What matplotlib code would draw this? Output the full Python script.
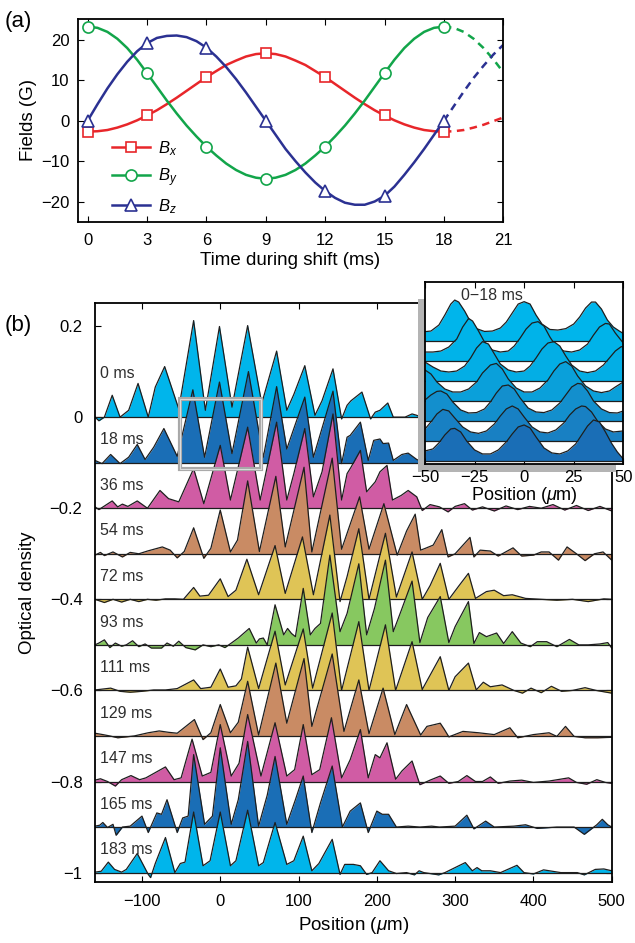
import numpy as np
import matplotlib
matplotlib.use('Agg')
import matplotlib.pyplot as plt
from matplotlib.patches import Rectangle

plt.rcParams['font.family'] = ['Liberation Sans', 'DejaVu Sans']
plt.rcParams['mathtext.fontset'] = 'custom'
plt.rcParams['mathtext.rm'] = 'Liberation Sans'
plt.rcParams['mathtext.it'] = 'Liberation Sans:italic'

# ---- panel (a): fields during the shift, read every 0.5 ms ----
t_ms = [0, 0.5, 1, 1.5, 2, 2.5, 3, 3.5, 4, 4.5, 5, 5.5, 6, 6.5, 7, 7.5, 8, 8.5, 9, 9.5, 10, 10.5, 11, 11.5, 12,
        12.5, 13, 13.5, 14, 14.5, 15, 15.5, 16, 16.5, 17, 17.5, 18, 18.5, 19, 19.5, 20, 20.5, 21]
bx = [-2.7, -2.6, -2.3, -1.7, -0.9, 0.1, 1.3, 2.6, 4.1, 5.7, 7.4, 9.1, 10.8, 12.3, 13.8, 14.9, 15.9, 16.5, 16.7,
      16.5, 15.9, 14.9, 13.8, 12.3, 10.8, 9.1, 7.4, 5.7, 4.1, 2.6, 1.3, 0.1, -0.9, -1.7, -2.3, -2.6, -2.7,
      -2.6, -2.3, -1.7, -1.0, -0.1, 0.8]
by = [23.3, 23.0, 22.0, 20.3, 18.0, 15.1, 11.8, 8.4, 5.0, 1.8, -1.2, -3.9, -6.4, -8.6, -10.6, -12.2, -13.4, -14.1,
      -14.4, -14.1, -13.4, -12.2, -10.6, -8.6, -6.4, -3.9, -1.2, 1.8, 5.0, 8.4, 11.8, 15.1, 18.0, 20.3, 22.0, 23.0,
      23.3, 23.0, 22.0, 20.3, 18.0, 15.2, 12.0]
bz = [0.0, 4.1, 8.0, 11.5, 14.6, 17.2, 19.2, 20.5, 21.0, 21.1, 20.7, 19.7, 18.1, 15.9, 13.3, 10.3, 7.0, 3.5, 0.0,
      -3.5, -7.0, -10.0, -12.8, -15.3, -17.4, -19.1, -20.3, -20.8, -20.8, -20.0, -18.6, -16.3, -13.4, -10.3, -7.0,
      -3.5, 0.0, 3.6, 7.2, 10.6, 13.6, 16.4, 18.8]

# ---- panel (b): optical density traces (position in um, OD above each baseline) ----
labels = ['0 ms', '18 ms', '36 ms', '54 ms', '72 ms', '93 ms', '111 ms', '129 ms', '147 ms', '165 ms', '183 ms']

x0 = [-160, -155, -148, -138, -128, -117, -105, -92, -83, -71, -53, -34, -19, -1, 15, 35, 53, 72, 85, 94, 108, 121,
      130, 144, 155, 162, 167, 181, 192, 198, 204, 214, 221, 236, 245, 251, 262, 275, 290, 305, 325, 345, 370, 395,
      420, 445, 470, 500]
y0 = [0.0, -0.008, 0.0, 0.048, 0.0, 0.015, 0.074, 0.0, 0.066, 0.111, 0.018, 0.212, 0.015, 0.199, 0.022, 0.201, 0.03,
      0.145, 0.015, 0.05, 0.113, 0.004, 0.036, 0.106, -0.004, 0.026, 0.036, 0.055, -0.004, 0.011, 0.015, 0.031, 0.0,
      0.0, 0.007, 0.004, -0.004, 0.006, -0.003, 0.005, -0.004, 0.006, -0.003, 0.005, -0.004, 0.004, -0.003, 0.002]

x18 = [-160, -151, -140, -128, -117, -106, -96, -85, -72, -55, -35, -20, -1, 15, 36, 55, 72, 85, 94, 108, 119, 128,
       144, 155, 162, 166, 179, 189, 196, 204, 208, 215, 221, 232, 240, 251, 265, 280, 300, 320, 345, 370, 400, 430,
       460, 500]
y18 = [0.005, -0.002, 0.018, -0.002, 0.012, 0.04, 0.007, 0.034, 0.075, 0.014, 0.16, 0.012, 0.177, 0.02, 0.2, 0.012,
       0.167, 0.03, 0.075, 0.144, 0.012, 0.064, 0.157, -0.002, 0.056, 0.06, 0.089, 0.005, 0.049, 0.052, 0.042, 0.043,
       0.005, 0.018, 0.021, 0.007, -0.004, 0.006, -0.003, 0.005, -0.004, 0.004, -0.003, 0.004, -0.002, 0.0]

x36 = [-160, -155, -138, -131, -125, -118, -106, -93, -77, -66, -53, -34, -21, 0, 13, 35, 51, 72, 85, 94, 108, 119,
       130, 144, 155, 162, 167, 179, 187, 198, 204, 213, 220, 231, 240, 251, 258, 268, 280, 291, 300, 312, 322, 335,
       350, 365, 380, 395, 410, 425, 440, 455, 470, 485, 500]
y36 = [0.003, -0.003, 0.016, 0.003, 0.009, 0.004, 0.016, 0.0, 0.039, 0.021, 0.014, 0.087, 0.01, 0.138, 0.018, 0.178,
       0.018, 0.189, 0.018, 0.076, 0.175, 0.025, 0.08, 0.207, 0.018, 0.076, 0.09, 0.127, 0.036, 0.058, 0.08, 0.094,
       0.018, 0.028, 0.039, 0.025, -0.005, 0.008, 0.003, -0.008, 0.004, 0.01, -0.004, 0.003, -0.006, 0.005, -0.003,
       0.004, 0.0, 0.008, -0.004, 0.006, -0.005, 0.004, -0.006]

x54 = [-160, -153, -148, -137, -125, -115, -104, -93, -74, -64, -55, -46, -34, -21, -12, 0, 13, 22, 35, 50, 71, 83,
       107, 117, 143, 155, 178, 190, 209, 226, 238, 249, 256, 262, 272, 283, 291, 300, 319, 324, 332, 345, 355, 374,
       385, 400, 410, 420, 432, 443, 455, 466, 478, 489, 500]
y54 = [-0.003, 0.003, -0.004, 0.004, -0.007, 0.003, 0.0, 0.006, 0.015, 0.008, -0.009, 0.005, 0.057, -0.01, 0.012,
       0.096, 0.004, 0.03, 0.16, 0.005, 0.17, 0.015, 0.19, 0.004, 0.21, 0.01, 0.125, 0.01, 0.11, -0.003, 0.05, 0.087,
       0.008, 0.012, 0.019, 0.053, -0.007, 0.0, 0.036, -0.007, 0.008, 0.006, -0.005, 0.013, -0.005, -0.003, 0.004,
       0.004, -0.014, 0.015, 0.0, -0.015, 0.0, 0.004, -0.014]

x72 = [-160, -148, -137, -126, -115, -104, -93, -82, -70, -58, -47, -34, -26, -15, 0, 10, 20, 34, 49, 70, 83, 105,
       119, 140, 153, 162, 177, 190, 211, 225, 245, 258, 268, 281, 292, 305, 317, 326, 340, 350, 362, 373, 390, 410,
       430, 450, 470, 490, 500]
y72 = [0.0, -0.007, 0.0, -0.006, 0.0, -0.005, 0.0, -0.002, 0.001, 0.001, 0.0, 0.026, 0.007, 0.009, 0.045, 0.006,
       0.02, 0.088, 0.01, 0.118, 0.013, 0.137, 0.01, 0.185, -0.005, 0.05, 0.155, 0.0, 0.145, 0.005, 0.104, 0.0, 0.03,
       0.079, 0.0, 0.03, 0.057, 0.002, 0.017, 0.02, 0.008, 0.01, 0.002, 0.0, -0.002, 0.0, -0.005, 0.001, 0.0]

x93 = [-160, -155, -148, -141, -134, -126, -120, -112, -104, -96, -88, -75, -68, -60, -53, -44, -32, -22, -12, -2, 6,
       15, 23, 37, 46, 50, 55, 60, 70, 81, 86, 91, 96, 106, 115, 121, 128, 140, 153, 162, 177, 187, 197, 211, 221,
       230, 245, 255, 265, 281, 292, 300, 317, 324, 331, 340, 353, 362, 373, 384, 396, 405, 417, 430, 446, 458, 470,
       485, 495, 500]
y93 = [0.0, 0.004, 0.011, -0.006, 0.004, -0.003, 0.0, 0.009, -0.004, 0.002, -0.007, -0.007, 0.004, -0.003, 0.008,
       -0.006, -0.011, 0.0, -0.004, 0.0, -0.006, 0.005, 0.015, 0.036, 0.004, 0.013, 0.015, 0.0, 0.088, 0.022, 0.036,
       0.025, 0.018, 0.124, 0.022, 0.036, 0.047, 0.197, 0.029, 0.069, 0.178, 0.022, 0.08, 0.186, 0.029, 0.07, 0.14,
       0.005, 0.06, 0.106, 0.005, 0.04, 0.095, 0.003, 0.027, 0.018, 0.026, 0.003, 0.029, 0.004, -0.004, 0.007, 0.007,
       -0.004, 0.012, 0.0, 0.0, 0.002, 0.005, -0.007]

x111 = [-160, -140, -128, -115, -100, -85, -70, -55, -34, -25, -12, 0, 10, 20, 27, 35, 49, 70, 83, 106, 118, 143,
        155, 177, 190, 211, 224, 245, 258, 281, 292, 300, 317, 327, 336, 345, 360, 375, 386, 397, 410, 423, 436, 450,
        466, 480, 500]
y111 = [0.001, 0.005, -0.002, -0.004, -0.002, 0.001, 0.001, 0.004, 0.023, 0.004, 0.007, 0.047, 0.007, 0.01, 0.025,
        0.095, 0.004, 0.13, 0.012, 0.135, 0.005, 0.17, 0.0, 0.151, 0.0, 0.144, 0.0, 0.107, 0.002, 0.074, 0.0, 0.03,
        0.06, 0.001, 0.018, 0.008, 0.012, 0.0, -0.006, 0.005, -0.005, 0.009, -0.002, 0.0, 0.006, 0.0, -0.006]

x129 = [-160, -150, -141, -131, -120, -110, -92, -78, -66, -55, -33, -22, -12, 0, 13, 23, 35, 49, 71, 85, 107, 117,
        143, 158, 177, 190, 208, 223, 238, 256, 264, 281, 286, 292, 310, 330, 350, 370, 380, 400, 420, 430, 441, 452,
        466, 482, 500]
y129 = [0.006, 0.003, 0.0, -0.004, -0.002, 0.0, 0.007, 0.011, 0.008, 0.006, 0.036, -0.008, 0.007, 0.069, 0.007, 0.03,
        0.12, 0.002, 0.16, 0.028, 0.17, 0.021, 0.18, 0.01, 0.123, 0.005, 0.105, 0.003, 0.069, 0.002, 0.021, 0.028,
        0.015, -0.002, 0.01, 0.007, 0.003, 0.018, -0.004, 0.003, 0.007, -0.001, 0.021, -0.001, -0.004, -0.004, -0.003]

x147 = [-160, -153, -144, -134, -126, -114, -103, -95, -70, -59, -50, -36, -23, -12, 0, 14, 24, 35, 52, 70, 85, 95,
        106, 117, 127, 142, 155, 166, 179, 189, 198, 204, 213, 224, 232, 245, 255, 268, 281, 292, 304, 315, 326, 335,
        345, 355, 370, 385, 400, 420, 445, 455, 468, 481, 492, 500]
y147 = [0.003, 0.006, 0.0, -0.01, 0.004, 0.013, 0.004, 0.008, 0.032, 0.004, 0.008, 0.093, 0.012, 0.02, 0.125, 0.012,
        0.04, 0.147, 0.012, 0.129, 0.012, 0.026, 0.125, 0.015, 0.026, 0.14, 0.008, 0.048, 0.114, 0.008, 0.059, 0.052,
        0.085, 0.005, 0.023, 0.045, -0.007, 0.003, 0.012, -0.004, 0.0, 0.013, 0.0, 0.0, 0.01, -0.004, 0.001, 0.003,
        -0.002, 0.001, 0.008, -0.002, -0.006, 0.004, -0.002, -0.004]

x165 = [-160, -154, -150, -144, -137, -133, -125, -115, -100, -92, -81, -75, -68, -55, -48, -41, -34, -20, -10, 0, 14,
        23, 35, 49, 60, 70, 85, 96, 106, 117, 128, 143, 156, 166, 179, 189, 200, 207, 215, 225, 240, 255, 270, 280,
        300, 315, 324, 339, 350, 375, 390, 405, 430, 452, 465, 481, 488, 495, 500]
y165 = [0.002, 0.004, 0.01, -0.001, 0.006, -0.018, 0.0, 0.002, 0.024, -0.012, 0.031, 0.028, 0.06, -0.012, 0.02, 0.024,
        0.159, 0.006, 0.024, 0.174, 0.006, 0.06, 0.188, 0.002, 0.07, 0.155, 0.006, 0.06, 0.112, -0.012, 0.053, 0.134,
        0.0, 0.035, 0.053, -0.012, 0.035, 0.028, 0.028, 0.0, 0.002, 0.0, 0.002, 0.0, 0.002, 0.026, -0.004, 0.013, 0.0,
        0.002, 0.005, -0.003, 0.0, 0.0, -0.016, 0.005, 0.017, 0.005, 0.0]

x183 = [-160, -152, -143, -135, -126, -120, -106, -92, -89, -83, -70, -58, -51, -45, -34, -22, -13, 0, 13, 20, 35, 49,
        55, 70, 85, 94, 106, 117, 126, 143, 153, 159, 170, 179, 187, 194, 204, 215, 225, 238, 248, 254, 260, 279, 287,
        313, 322, 328, 334, 345, 358, 379, 388, 400, 413, 435, 456, 465, 479, 490, 500]
y183 = [0.001, 0.003, 0.023, 0.007, 0.001, 0.007, 0.042, -0.004, -0.011, 0.02, 0.077, 0.0, 0.02, 0.023, 0.133, 0.015,
        0.026, 0.133, 0.015, 0.026, 0.137, 0.015, 0.022, 0.11, 0.018, 0.026, 0.08, 0.004, 0.02, 0.073, -0.004, 0.018,
        0.018, 0.015, -0.004, 0.0, 0.026, 0.004, -0.002, 0.0, -0.005, 0.004, 0.0, -0.005, 0.0, 0.022, 0.004, 0.011,
        0.004, 0.004, 0.0, 0.016, 0.0, -0.003, 0.006, 0.0, 0.0, -0.005, 0.007, 0.008, 0.004]

trace_x = [x0, x18, x36, x54, x72, x93, x111, x129, x147, x165, x183]
trace_y = [y0, y18, y36, y54, y72, y93, y111, y129, y147, y165, y183]

c_light = '#00B5EB'
c_dark = '#1A6EB6'
c_mag = '#D05CA4'
c_brown = '#C98B64'
c_yel = '#DFC456'
c_green = '#87C860'
trace_colors = [c_light, c_dark, c_mag, c_brown, c_yel, c_green, c_yel, c_brown, c_mag, c_dark, c_light]

# ---- inset: 0-18 ms in 3 ms steps (height in units of row spacing) ----
ix = [
    [-50, -47, -43, -40, -37, -35, -33, -30, -27, -24, -20, -16, -12, -9, -6, -3, 0, 3, 6, 9, 13, 17, 21, 25, 28,
     31, 34, 36, 39, 42, 45, 48, 50],
    [-50, -46, -42, -38, -34, -31, -28, -26, -23, -20, -16, -12, -8, -5, -2, 1, 4, 7, 10, 13, 16, 20, 24, 28, 32,
     35, 38, 41, 43, 46, 50],
    [-50, -46, -42, -38, -34, -30, -27, -24, -21, -18, -15, -12, -8, -4, 0, 3, 6, 9, 12, 15, 18, 21, 24, 28, 32,
     36, 40, 43, 46, 49, 50],
    [-50, -47, -44, -40, -36, -32, -28, -24, -21, -17, -14, -11, -8, -4, 0, 4, 8, 12, 15, 18, 21, 24, 27, 31, 35,
     39, 43, 46, 50],
    [-50, -47, -44, -42, -39, -36, -32, -28, -24, -20, -17, -14, -11, -8, -5, -2, 2, 6, 10, 14, 18, 21, 24, 27, 29,
     32, 35, 39, 43, 47, 50],
    [-50, -47, -44, -41, -38, -35, -31, -27, -23, -19, -15, -12, -9, -6, -3, 0, 4, 8, 12, 16, 20, 23, 26, 29, 31,
     34, 37, 41, 45, 50],
    [-50, -46, -43, -40, -37, -35, -32, -29, -25, -21, -17, -13, -9, -6, -3, 0, 3, 6, 10, 14, 18, 22, 26, 29, 32,
     35, 38, 41, 44, 47, 50],
]
iy = [
    [0.47, 0.5, 0.8, 1.3, 1.85, 2.05, 1.95, 1.5, 0.95, 0.62, 0.48, 0.5, 0.65, 0.95, 1.4, 1.85, 1.97, 1.85, 1.3, 0.85,
     0.58, 0.55, 0.62, 0.85, 1.2, 1.65, 1.95, 1.95, 1.6, 1.05, 0.7, 0.5, 0.38],
    [0.45, 0.45, 0.5, 0.7, 1.1, 1.7, 2.13, 2.0, 1.5, 0.95, 0.55, 0.45, 0.5, 0.75, 1.15, 1.6, 1.9, 1.97, 1.75, 1.2,
     0.75, 0.5, 0.45, 0.55, 0.85, 1.3, 1.7, 1.88, 1.85, 1.4, 0.9],
    [0.95, 0.7, 0.5, 0.45, 0.5, 0.75, 1.15, 1.65, 1.97, 1.85, 1.35, 0.85, 0.55, 0.45, 0.5, 0.75, 1.15, 1.6, 1.9,
     1.97, 1.75, 1.25, 0.8, 0.5, 0.42, 0.5, 0.8, 1.15, 1.5, 1.72, 1.7],
    [1.55, 1.35, 0.95, 0.6, 0.45, 0.45, 0.6, 0.95, 1.4, 1.8, 1.88, 1.6, 1.1, 0.65, 0.45, 0.45, 0.65, 1.05, 1.5, 1.85,
     1.97, 1.75, 1.25, 0.75, 0.5, 0.42, 0.5, 0.7, 0.95],
    [1.05, 1.3, 1.48, 1.5, 1.35, 0.95, 0.55, 0.4, 0.42, 0.6, 0.95, 1.4, 1.75, 1.8, 1.6, 1.15, 0.65, 0.45, 0.42, 0.55,
     0.9, 1.3, 1.7, 1.88, 1.85, 1.5, 1.0, 0.6, 0.42, 0.4, 0.5],
    [0.6, 0.95, 1.35, 1.58, 1.5, 1.15, 0.7, 0.45, 0.38, 0.5, 0.85, 1.25, 1.6, 1.75, 1.6, 1.2, 0.7, 0.45, 0.4, 0.55,
     0.9, 1.3, 1.6, 1.75, 1.72, 1.45, 1.0, 0.6, 0.45, 0.5],
    [0.5, 0.6, 0.9, 1.3, 1.6, 1.63, 1.45, 1.0, 0.55, 0.35, 0.35, 0.55, 0.95, 1.35, 1.7, 1.8, 1.65, 1.2, 0.65, 0.4,
     0.35, 0.5, 0.85, 1.3, 1.75, 2.05, 1.95, 1.45, 0.9, 0.45, 0.1],
]
inset_colors = ['#00B5EB', '#00B3E9', '#03AEE5', '#0AA0DA', '#138FCD', '#1880C3', '#1A6EB6']

fig = plt.figure(figsize=(6.35, 9.43), dpi=100)

# ================= (a) =================
ax = fig.add_axes([0.1224, 0.7649, 0.6702, 0.215])
series = [(bx, '#E8262A', 's', 7, '$B_x$'), (by, '#12A54A', 'o', 8, '$B_y$'), (bz, '#2B3192', '^', 8.5, '$B_z$')]
for vals, col, mk, ms, lab in series:
    ax.plot(t_ms[:37], vals[:37], color=col, lw=1.8, marker=mk, markevery=6, ms=ms,
            mfc='white', mec=col, mew=1.2, label=lab, zorder=3)
    ax.plot(t_ms[36:], vals[36:], color=col, lw=1.8, ls=(0, (3, 2.2)), zorder=2)
ax.set_xlim(-0.5, 21)
ax.set_ylim(-25, 25.2)
ax.set_xticks([0, 3, 6, 9, 12, 15, 18, 21])
ax.set_yticks([-20, -10, 0, 10, 20])
ax.set_yticklabels(['\u221220', '\u221210', '0', '10', '20'])
ax.tick_params(direction='in', top=True, right=True, labelsize=12, length=4, width=0.8, pad=8)
ax.tick_params(axis='y', pad=6)
for s in ax.spines.values():
    s.set_linewidth(1.3)
ax.set_xlabel('Time during shift (ms)', fontsize=13.5, labelpad=3)
ax.set_ylabel('Fields (G)', fontsize=13.5, labelpad=3)
ax.legend(loc='lower left', bbox_to_anchor=(0.08, 0.03), frameon=False, fontsize=12, handlelength=2.3,
          labelspacing=0.5, borderpad=0, borderaxespad=0, handletextpad=0.5)
fig.text(0.008, 0.977, '(a)', fontsize=16, va='center', ha='left')

# ================= (b) =================
axb = fig.add_axes([0.1496, 0.065, 0.8137, 0.6134])
for i in range(len(labels)):
    base = -0.1 * i
    xs = np.array(trace_x[i], dtype=float)
    ys = base + np.array(trace_y[i])
    z = 2 + i
    axb.fill_between(xs, base, ys, color=trace_colors[i], lw=0, zorder=z)
    axb.plot(xs, ys, color='#1E1E1E', lw=0.9, zorder=z)
    axb.plot([-160, 500], [base, base], color='#1E1E1E', lw=0.9, zorder=z)
    off = 0.095 if i == 0 else 0.05
    axb.text(-153, base + off, labels[i], fontsize=11.5, va='center', ha='left', color='#2E2E2E', zorder=30)

axb.add_patch(Rectangle((-51, -0.113), 103, 0.153, fill=False, ec='#A8A8A8', lw=3.0, zorder=25))
axb.add_patch(Rectangle((-51, -0.113), 103, 0.153, fill=False, ec='#DCDCDC', lw=0.8, zorder=26))

axb.set_xlim(-160, 500)
axb.set_ylim(-1.02, 0.25)
axb.set_xticks([-100, 0, 100, 200, 300, 400, 500])
axb.set_xticklabels(['\u2212100', '0', '100', '200', '300', '400', '500'])
axb.set_yticks([0.2, 0, -0.2, -0.4, -0.6, -0.8, -1.0])
axb.set_yticklabels(['0.2', '0', '\u22120.2', '\u22120.4', '\u22120.6', '\u22120.8', '\u22121'])
axb.tick_params(direction='in', top=True, right=True, labelsize=12, length=4, width=0.8, pad=9)
for s in axb.spines.values():
    s.set_linewidth(1.3)
    s.set_zorder(40)
axb.set_xlabel('Position ($\\mu$m)', fontsize=13.5, labelpad=4)
axb.set_ylabel('Optical density', fontsize=13.5, labelpad=10)
fig.text(0.008, 0.655, '(b)', fontsize=16, va='center', ha='left')

# inset shadow
fig.patches.append(Rectangle((418 / 635, 1 - 472 / 943), 198 / 635, 173 / 943, transform=fig.transFigure,
                             fc='#B4B4B4', ec='none', zorder=5))

axi = fig.add_axes([0.6693, 0.5076, 0.3122, 0.1937], zorder=10)
for r in range(len(ix)):
    base = -r
    xs = np.array(ix[r], dtype=float)
    ys = base + np.array(iy[r])
    axi.fill_between(xs, base, ys, color=inset_colors[r], lw=0, zorder=2 + r)
    axi.plot(xs, ys, color='#1E1E1E', lw=0.9, zorder=2 + r)
    axi.plot([-50, 50], [base, base], color='#1E1E1E', lw=0.9, zorder=2 + r)
axi.set_xlim(-50, 50)
axi.set_ylim(-6.17, 2.97)
axi.set_yticks([])
axi.set_xticks([-50, -25, 0, 25, 50])
axi.set_xticklabels(['\u221250', '\u221225', '0', '25', '50'])
axi.tick_params(direction='in', top=True, labelsize=12, length=4, width=0.8, pad=4)
for s in axi.spines.values():
    s.set_linewidth(1.3)
    s.set_zorder(40)
axi.set_xlabel('Position ($\\mu$m)', fontsize=13, labelpad=0)
axi.text(-32, 2.3, '0\u221218 ms', fontsize=11.5, va='center', ha='left', color='#2E2E2E', zorder=30)

fig.savefig('out.png', dpi=100)
